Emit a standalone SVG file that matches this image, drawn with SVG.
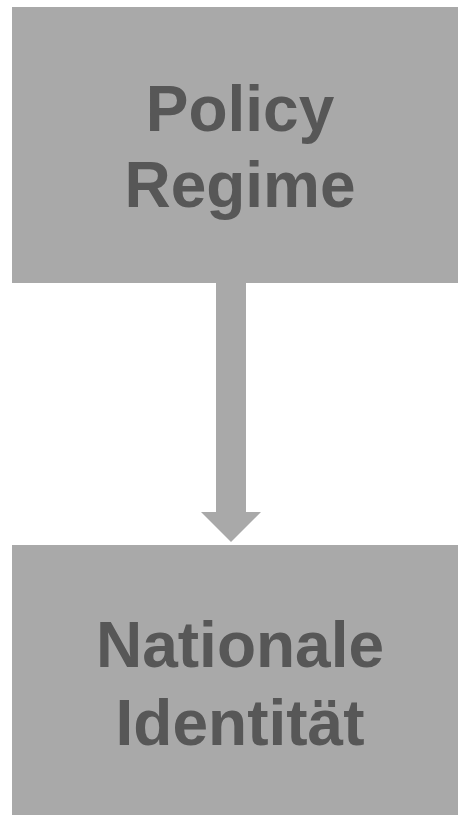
<svg xmlns="http://www.w3.org/2000/svg" width="458" height="815" viewBox="0 0 458 815">
<style>
.box{fill:#a9a9a9}
.lbl{font-family:"Liberation Sans",Arial,sans-serif;font-weight:bold;font-size:64px;fill:#575757;text-anchor:middle}
.conn{fill:#a9a9a9}
</style>
<rect width="458" height="815" fill="#ffffff"/>
<g id="node-policy">
<rect class="box" x="12" y="7" width="446" height="276"/>
<text class="lbl" x="240" y="131">Policy</text>
<text class="lbl" x="240" y="207">Regime</text>
</g>
<g id="node-identitaet">
<rect class="box" x="12" y="545" width="446" height="270"/>
<text class="lbl" x="240" y="667">Nationale</text>
<text class="lbl" x="240" y="745">Identität</text>
</g>
<g id="connectors">
<polygon class="conn" points="216,283 246,283 246,512 261,512 231,542 201,512 216,512"/>
</g>
</svg>
